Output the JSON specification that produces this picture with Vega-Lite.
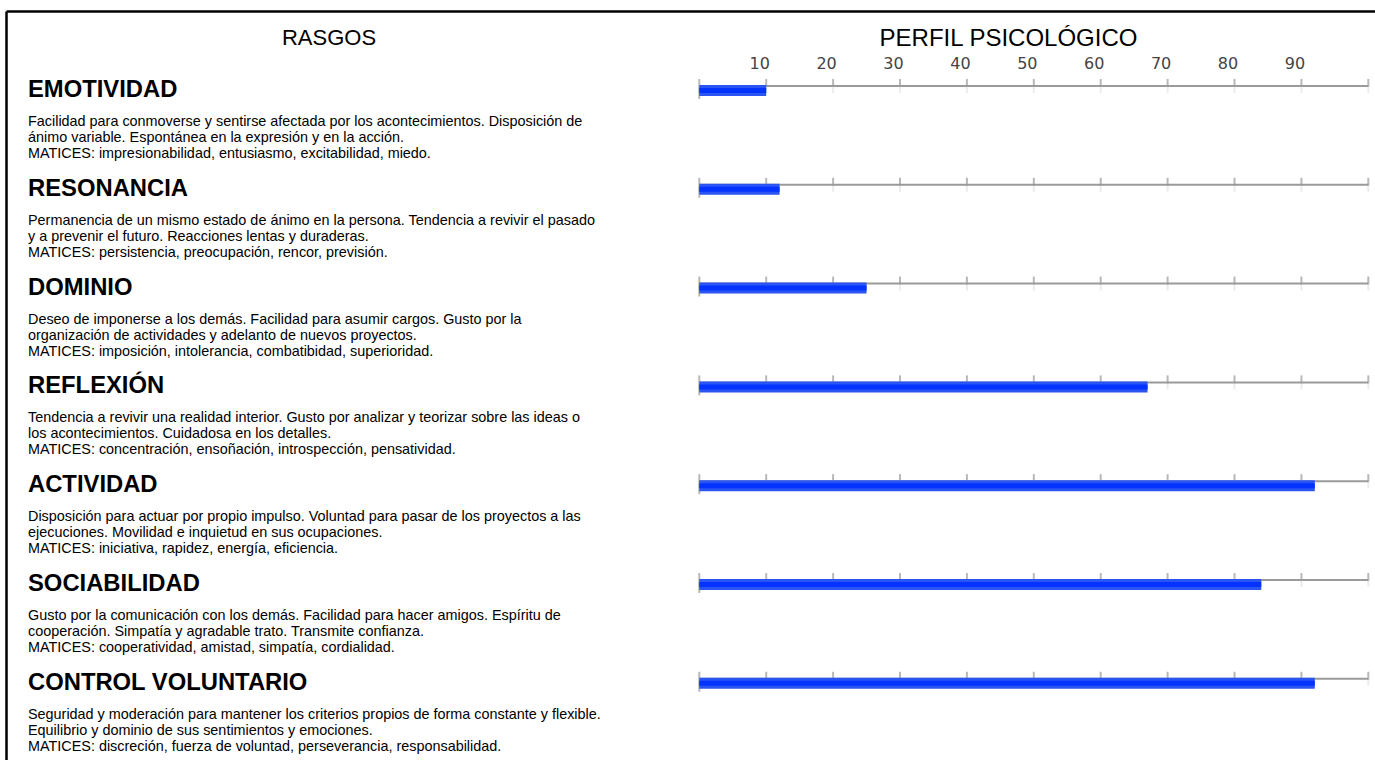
{
  "$schema": "https://vega.github.io/schema/vega-lite/v6.json",
  "width": 1369,
  "height": 749,
  "autosize": {"type": "none"},
  "padding": {"left": 6, "top": 11, "right": 0, "bottom": 0},
  "background": "white",
  "title": {"text": "RASGOS", "anchor": "start", "frame": "group", "align": "center", "baseline": "middle", "dx": 323, "dy": 49, "offset": 0, "font": "Liberation Sans", "fontSize": 22, "fontWeight": "normal", "color": "black"},
  "datasets": {
    "rasgos": [
      {"rasgo": "EMOTIVIDAD", "valor": 10, "descripcion": "Facilidad para conmoverse y sentirse afectada por los acontecimientos. Disposición de\nánimo variable. Espontánea en la expresión y en la acción.\nMATICES: impresionabilidad, entusiasmo, excitabilidad, miedo."},
      {"rasgo": "RESONANCIA", "valor": 12, "descripcion": "Permanencia de un mismo estado de ánimo en la persona. Tendencia a revivir el pasado\ny a prevenir el futuro. Reacciones lentas y duraderas.\nMATICES: persistencia, preocupación, rencor, previsión."},
      {"rasgo": "DOMINIO", "valor": 25, "descripcion": "Deseo de imponerse a los demás. Facilidad para asumir cargos. Gusto por la\norganización de actividades y adelanto de nuevos proyectos.\nMATICES: imposición, intolerancia, combatibidad, superioridad."},
      {"rasgo": "REFLEXIÓN", "valor": 67, "descripcion": "Tendencia a revivir una realidad interior. Gusto por analizar y teorizar sobre las ideas o\nlos acontecimientos. Cuidadosa en los detalles.\nMATICES: concentración, ensoñación, introspección, pensatividad."},
      {"rasgo": "ACTIVIDAD", "valor": 92, "descripcion": "Disposición para actuar por propio impulso. Voluntad para pasar de los proyectos a las\nejecuciones. Movilidad e inquietud en sus ocupaciones.\nMATICES: iniciativa, rapidez, energía, eficiencia."},
      {"rasgo": "SOCIABILIDAD", "valor": 84, "descripcion": "Gusto por la comunicación con los demás. Facilidad para hacer amigos. Espíritu de\ncooperación. Simpatía y agradable trato. Transmite confianza.\nMATICES: cooperatividad, amistad, simpatía, cordialidad."},
      {"rasgo": "CONTROL VOLUNTARIO", "valor": 92, "descripcion": "Seguridad y moderación para mantener los criterios propios de forma constante y flexible.\nEquilibrio y dominio de sus sentimientos y emociones.\nMATICES: discreción, fuerza de voluntad, perseverancia, responsabilidad."}
    ],
    "marcas": [
      {"rasgo": "EMOTIVIDAD", "marca": 0}, {"rasgo": "EMOTIVIDAD", "marca": 10}, {"rasgo": "EMOTIVIDAD", "marca": 20}, {"rasgo": "EMOTIVIDAD", "marca": 30}, {"rasgo": "EMOTIVIDAD", "marca": 40}, {"rasgo": "EMOTIVIDAD", "marca": 50}, {"rasgo": "EMOTIVIDAD", "marca": 60}, {"rasgo": "EMOTIVIDAD", "marca": 70}, {"rasgo": "EMOTIVIDAD", "marca": 80}, {"rasgo": "EMOTIVIDAD", "marca": 90}, {"rasgo": "EMOTIVIDAD", "marca": 100},
      {"rasgo": "RESONANCIA", "marca": 0}, {"rasgo": "RESONANCIA", "marca": 10}, {"rasgo": "RESONANCIA", "marca": 20}, {"rasgo": "RESONANCIA", "marca": 30}, {"rasgo": "RESONANCIA", "marca": 40}, {"rasgo": "RESONANCIA", "marca": 50}, {"rasgo": "RESONANCIA", "marca": 60}, {"rasgo": "RESONANCIA", "marca": 70}, {"rasgo": "RESONANCIA", "marca": 80}, {"rasgo": "RESONANCIA", "marca": 90}, {"rasgo": "RESONANCIA", "marca": 100},
      {"rasgo": "DOMINIO", "marca": 0}, {"rasgo": "DOMINIO", "marca": 10}, {"rasgo": "DOMINIO", "marca": 20}, {"rasgo": "DOMINIO", "marca": 30}, {"rasgo": "DOMINIO", "marca": 40}, {"rasgo": "DOMINIO", "marca": 50}, {"rasgo": "DOMINIO", "marca": 60}, {"rasgo": "DOMINIO", "marca": 70}, {"rasgo": "DOMINIO", "marca": 80}, {"rasgo": "DOMINIO", "marca": 90}, {"rasgo": "DOMINIO", "marca": 100},
      {"rasgo": "REFLEXIÓN", "marca": 0}, {"rasgo": "REFLEXIÓN", "marca": 10}, {"rasgo": "REFLEXIÓN", "marca": 20}, {"rasgo": "REFLEXIÓN", "marca": 30}, {"rasgo": "REFLEXIÓN", "marca": 40}, {"rasgo": "REFLEXIÓN", "marca": 50}, {"rasgo": "REFLEXIÓN", "marca": 60}, {"rasgo": "REFLEXIÓN", "marca": 70}, {"rasgo": "REFLEXIÓN", "marca": 80}, {"rasgo": "REFLEXIÓN", "marca": 90}, {"rasgo": "REFLEXIÓN", "marca": 100},
      {"rasgo": "ACTIVIDAD", "marca": 0}, {"rasgo": "ACTIVIDAD", "marca": 10}, {"rasgo": "ACTIVIDAD", "marca": 20}, {"rasgo": "ACTIVIDAD", "marca": 30}, {"rasgo": "ACTIVIDAD", "marca": 40}, {"rasgo": "ACTIVIDAD", "marca": 50}, {"rasgo": "ACTIVIDAD", "marca": 60}, {"rasgo": "ACTIVIDAD", "marca": 70}, {"rasgo": "ACTIVIDAD", "marca": 80}, {"rasgo": "ACTIVIDAD", "marca": 90}, {"rasgo": "ACTIVIDAD", "marca": 100},
      {"rasgo": "SOCIABILIDAD", "marca": 0}, {"rasgo": "SOCIABILIDAD", "marca": 10}, {"rasgo": "SOCIABILIDAD", "marca": 20}, {"rasgo": "SOCIABILIDAD", "marca": 30}, {"rasgo": "SOCIABILIDAD", "marca": 40}, {"rasgo": "SOCIABILIDAD", "marca": 50}, {"rasgo": "SOCIABILIDAD", "marca": 60}, {"rasgo": "SOCIABILIDAD", "marca": 70}, {"rasgo": "SOCIABILIDAD", "marca": 80}, {"rasgo": "SOCIABILIDAD", "marca": 90}, {"rasgo": "SOCIABILIDAD", "marca": 100},
      {"rasgo": "CONTROL VOLUNTARIO", "marca": 0}, {"rasgo": "CONTROL VOLUNTARIO", "marca": 10}, {"rasgo": "CONTROL VOLUNTARIO", "marca": 20}, {"rasgo": "CONTROL VOLUNTARIO", "marca": 30}, {"rasgo": "CONTROL VOLUNTARIO", "marca": 40}, {"rasgo": "CONTROL VOLUNTARIO", "marca": 50}, {"rasgo": "CONTROL VOLUNTARIO", "marca": 60}, {"rasgo": "CONTROL VOLUNTARIO", "marca": 70}, {"rasgo": "CONTROL VOLUNTARIO", "marca": 80}, {"rasgo": "CONTROL VOLUNTARIO", "marca": 90}, {"rasgo": "CONTROL VOLUNTARIO", "marca": 100}
    ]
  },
  "encoding": {
    "y": {
      "field": "rasgo",
      "type": "nominal",
      "sort": ["EMOTIVIDAD", "RESONANCIA", "DOMINIO", "REFLEXIÓN", "ACTIVIDAD", "SOCIABILIDAD", "CONTROL VOLUNTARIO"],
      "scale": {"type": "point", "padding": 0.7905, "align": 0.48},
      "axis": {"orient": "left", "domain": true, "domainColor": "black", "domainWidth": 2.5, "ticks": false, "labels": false, "grid": false, "title": null}
    }
  },
  "layer": [
    {
      "data": {"name": "marcas"},
      "mark": {"type": "tick", "orient": "vertical", "color": "#e4e4e4", "size": 6, "thickness": 2, "yOffset": 4},
      "encoding": {
        "x": {
          "field": "marca",
          "type": "quantitative",
          "scale": {"domain": [-103.63, 101.0], "nice": false, "zero": false},
          "axis": {
            "orient": "top", "offset": 0, "values": [10, 20, 30, 40, 50, 60, 70, 80, 90],
            "domain": true, "domainColor": "black", "domainWidth": 2.5,
            "ticks": false, "tickSize": 0, "grid": false,
            "labelFont": "DejaVu Sans", "labelFontSize": 16, "labelColor": "#444444", "labelBaseline": "alphabetic", "labelPadding": -57, "labelOffset": -7, "labelFlush": false,
            "title": "PERFIL PSICOLÓGICO", "titleX": 1002, "titleY": 27, "titleBaseline": "middle", "titleAlign": "center",
            "titleFont": "Liberation Sans", "titleFontSize": 24, "titleFontWeight": "normal", "titleColor": "black"
          }
        }
      }
    },
    {
      "data": {"name": "marcas"},
      "mark": {"type": "rule", "color": "#9a9a9a", "strokeWidth": 2},
      "encoding": {
        "x": {"field": "marca", "aggregate": "min", "type": "quantitative"},
        "x2": {"field": "marca", "aggregate": "max"}
      }
    },
    {
      "data": {"name": "marcas"},
      "mark": {"type": "tick", "orient": "vertical", "color": "#9a9a9a", "size": 8, "thickness": 2, "yOffset": -3},
      "encoding": {
        "x": {"field": "marca", "type": "quantitative"}
      }
    },
    {
      "data": {"name": "marcas"},
      "transform": [{"filter": "datum.marca == 0"}],
      "mark": {"type": "tick", "orient": "vertical", "color": "#9a9a9a", "size": 12, "thickness": 2, "yOffset": 7},
      "encoding": {
        "x": {"field": "marca", "type": "quantitative"}
      }
    },
    {
      "data": {"name": "rasgos"},
      "mark": {"type": "bar", "color": "#2b55f2", "height": 11, "yOffset": 4.5},
      "encoding": {
        "x": {"field": "valor", "type": "quantitative"}
      }
    },
    {
      "data": {"name": "rasgos"},
      "mark": {"type": "bar", "color": "#0433ff", "height": 5, "yOffset": 4.5},
      "encoding": {
        "x": {"field": "valor", "type": "quantitative"}
      }
    },
    {
      "data": {"name": "rasgos"},
      "mark": {"type": "text", "align": "left", "baseline": "alphabetic", "dx": 22, "dy": 11, "font": "Liberation Sans", "fontWeight": "bold", "fontSize": 23.8, "color": "black"},
      "encoding": {
        "x": {"datum": -103.63, "type": "quantitative"},
        "text": {"field": "rasgo"}
      }
    },
    {
      "data": {"name": "rasgos"},
      "mark": {"type": "text", "align": "left", "baseline": "alphabetic", "dx": 22, "dy": 40, "font": "Liberation Sans", "fontSize": 14.4, "lineBreak": "\n", "lineHeight": 16, "color": "black"},
      "encoding": {
        "x": {"datum": -103.63, "type": "quantitative"},
        "text": {"field": "descripcion"}
      }
    }
  ],
  "config": {
    "font": "Liberation Sans",
    "view": {"stroke": null},
    "axis": {"grid": false}
  }
}
